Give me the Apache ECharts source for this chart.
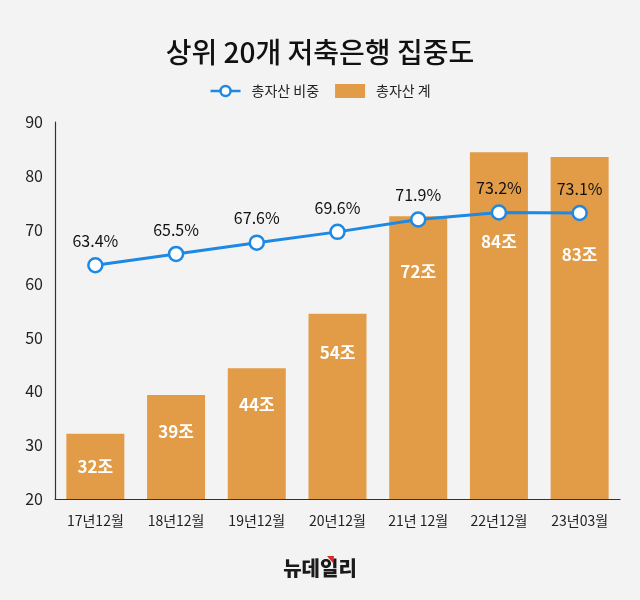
<!DOCTYPE html>
<html><head><meta charset="utf-8">
<script src="https://cdn.jsdelivr.net/npm/echarts@6/dist/echarts.min.js"></script>
<style>html,body{margin:0;padding:0;background:#f3f3f3}#c{width:640px;height:600px}</style>
</head><body><div id="c"></div>
<script>
var categories = ['17년12월','18년12월','19년12월','20년12월','21년 12월','22년12월','23년03월'];
var totalAssets = [32.1, 39.3, 44.3, 54.4, 72.5, 84.4, 83.5];
var assetShare = [63.4, 65.5, 67.6, 69.6, 71.9, 73.2, 73.1];
var yTicks = [20, 30, 40, 50, 60, 70, 80, 90];

var labelGap = [24, 28, 28, 30, 47, 81, 89];
var FONT = "'Noto Sans CJK KR', 'Noto Sans', sans-serif";

var chart = echarts.init(document.getElementById('c'));
chart.setOption({
  backgroundColor: '#f3f3f3',
  animation: false,
  title: {
    text: '상위 20개 저축은행 집중도',
    left: 'center', top: 33,
    textStyle: {fontFamily: FONT, fontSize: 28, fontWeight: 500, color: '#111'}
  },
  legend: {
    top: 79, left: 'center', itemGap: 16, itemWidth: 30, itemHeight: 14,
    textStyle: {fontFamily: FONT, fontSize: 14, color: '#222', padding: [0,0,0,6]},
    data: [
      {name: '총자산 비중', icon: 'path://M0,6 L10,6 A5,5 0 1,1 20,6 L30,6 M10,6 A5,5 0 1,0 20,6', itemStyle: {color: '#fff', borderColor: '#1e88e5', borderWidth: 2.5}},
      {name: '총자산 계', icon: 'rect'}
    ]
  },
  grid: {left: 55, right: 20, top: 122, bottom: 101},
  xAxis: {
    type: 'category', data: categories,
    axisLine: {lineStyle: {color: '#333', width: 1.2}},
    axisTick: {show: false},
    axisLabel: {fontFamily: FONT, fontSize: 14, color: '#222', margin: 15}
  },
  yAxis: {
    type: 'value', min: 20, max: 90, interval: 10,
    axisLine: {show: true, lineStyle: {color: '#333', width: 1.2}},
    axisTick: {show: false},
    splitLine: {show: false},
    axisLabel: {fontFamily: FONT, fontSize: 16, color: '#222', margin: 12,
      formatter: function(v){ return yTicks.indexOf(v) >= 0 ? String(v) : ''; }}
  },
  series: [
    {
      name: '총자산 계', type: 'bar', barWidth: 58,
      itemStyle: {color: '#e29c47'},
      data: totalAssets.map(function(v, i){
        return {value: v, label: {show: true, position: 'insideTop', distance: labelGap[i]}};
      }),
      label: {color: '#fff', fontFamily: FONT, fontSize: 17, fontWeight: 'bold',
        formatter: function(p){ return Math.floor(p.value) + '조'; }},
      z: 1
    },
    {
      name: '총자산 비중', type: 'line', data: assetShare,
      lineStyle: {color: '#1e88e5', width: 3},
      itemStyle: {color: '#fff', borderColor: '#1e88e5', borderWidth: 2.5},
      symbol: 'circle', symbolSize: 14,
      label: {show: true, position: 'top', distance: 8, color: '#111', fontFamily: FONT, fontSize: 16,
        formatter: function(p){ return p.value.toFixed(1) + '%'; }},
      z: 3
    }
  ],
  graphic: [
    {type: 'text', left: 'center', top: 558,
      style: {text: '뉴데일리', font: "900 20px 'Noto Sans CJK KR', sans-serif", fill: '#1a1a1a'}},
    {type: 'polygon', shape: {points: [[327,556],[334,556],[333,563]]}, style: {fill: '#e0262b'}}
  ]
});
</script></body></html>
